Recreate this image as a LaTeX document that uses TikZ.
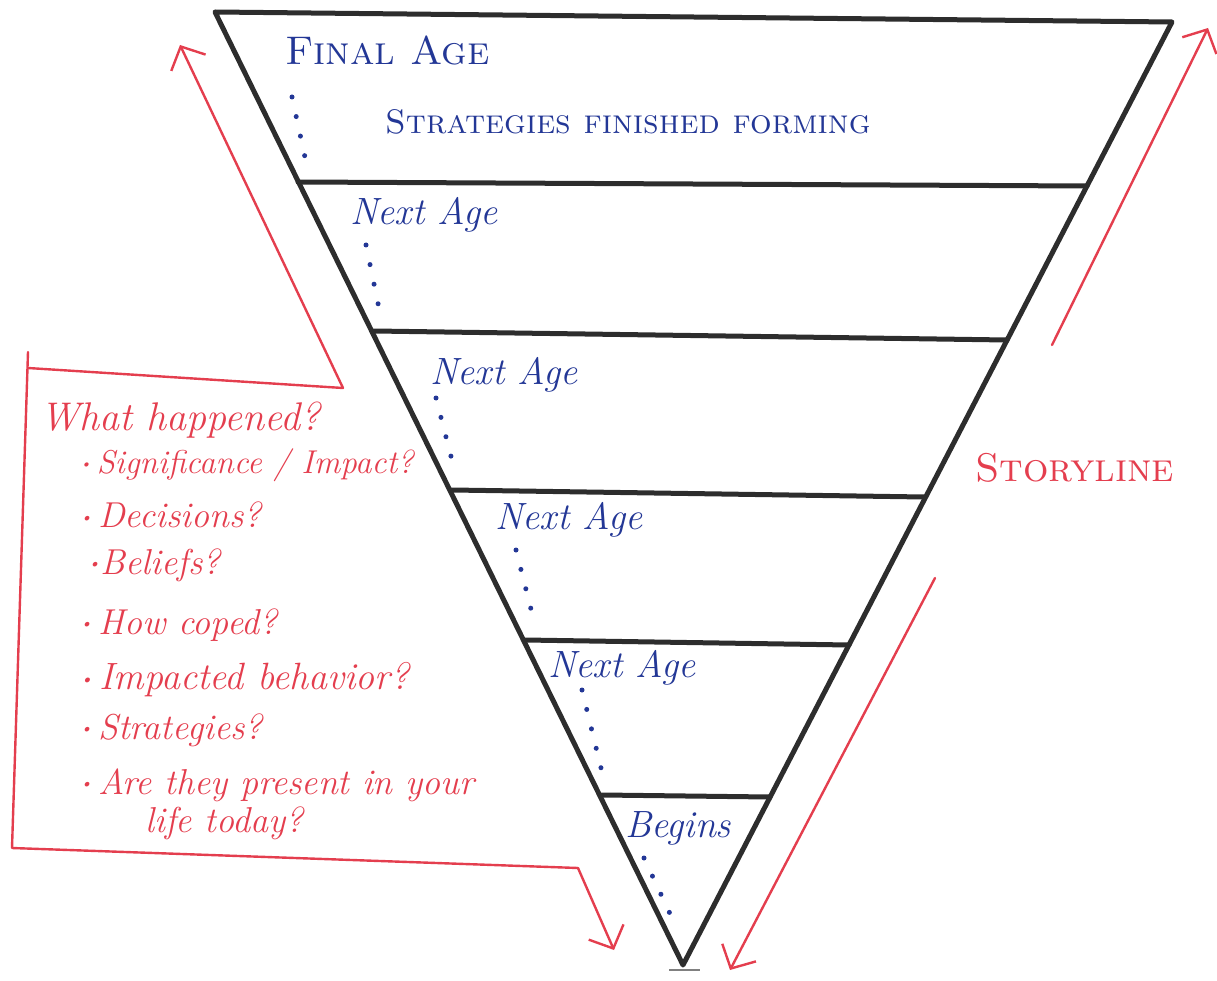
\documentclass[tikz,border=0pt]{standalone}
\usepackage{fontspec}
\usetikzlibrary{arrows.meta}
\definecolor{ink}{RGB}{45,45,45}
\definecolor{pen}{RGB}{228,62,78}
\definecolor{bpen}{RGB}{35,55,150}
\newcommand{\bdot}{\raisebox{0.15em}{\scalebox{0.45}{\textbullet}}}
\tikzset{
  frame/.style={draw=ink, line width=5pt, line cap=round, line join=round},
  redline/.style={draw=pen, line width=2.4pt, line cap=round, line join=round},
  redarrow/.style={redline, -{Straight Barb[length=18pt,width=38pt,line width=2.4pt]}},
  dots/.style={draw=bpen, line width=5pt, line cap=round, dash pattern=on 0pt off 20pt},
  bluetxt/.style={text=bpen, anchor=west, inner sep=0pt, font=\fontsize{38}{40}\selectfont\itshape},
  bluesc/.style={text=bpen, anchor=west, inner sep=0pt, font=\fontsize{34}{36}\selectfont\scshape},
  redtxt/.style={text=pen, anchor=west, inner sep=0pt, font=\fontsize{36}{40}\selectfont\itshape},
  redsc/.style={text=pen, anchor=west, inner sep=0pt, font=\fontsize{36}{38}\selectfont\scshape}
}
\begin{document}
\begin{tikzpicture}[x=1pt,y=-1pt]
\useasboundingbox (0,0) rectangle (1217,981);
% triangle
\coordinate (tl) at (215,12);
\coordinate (tr) at (1172,22);
\coordinate (ap) at (683,965);
\draw[frame] (tl) -- (tr) -- (ap) -- cycle;
\draw[gray, line width=2pt] (669,970) -- (700,970);
% levels
\coordinate (l1a) at (298,182); \coordinate (l1b) at (1087,186);
\coordinate (l2a) at (374,331); \coordinate (l2b) at (1007,340);
\coordinate (l3a) at (452,490); \coordinate (l3b) at (924,497);
\coordinate (l4a) at (525,640); \coordinate (l4b) at (849,645);
\coordinate (l5a) at (602,795); \coordinate (l5b) at (770,797);
\foreach \i in {1,...,5} \draw[frame] (l\i a) -- (l\i b);
% blue labels
\node[bluesc, font=\fontsize{40}{42}\selectfont\scshape] (fa) at (285,50) {Final Age};
\node[bluesc] (sf) at (385,122) {Strategies finished forming};
\node[bluetxt] (n1) at (350,215) {Next Age};
\node[bluetxt] (n2) at (430,375) {Next Age};
\node[bluetxt] (n3) at (495,520) {Next Age};
\node[bluetxt] (n4) at (548,668) {Next Age};
\node[bluetxt] (bg) at (625,828) {Begins};
% dotted trails
\coordinate (d0a) at (292,97);  \coordinate (d0b) at (306,162);
\coordinate (d1a) at (366,245); \coordinate (d1b) at (381,318);
\coordinate (d2a) at (436,398); \coordinate (d2b) at (455,472);
\coordinate (d3a) at (516,550); \coordinate (d3b) at (535,625);
\coordinate (d4a) at (582,690); \coordinate (d4b) at (602,772);
\coordinate (d5a) at (644,858); \coordinate (d5b) at (672,918);
\foreach \i in {0,...,5} \draw[dots] (d\i a) -- (d\i b);
% red bracket and arrows
\coordinate (la) at (180,45);
\coordinate (lc) at (343,388);
\coordinate (bl) at (28,368);
\coordinate (bt) at (28,352);
\coordinate (bb) at (12,848);
\coordinate (br) at (578,868);
\coordinate (ra) at (614,950);
\draw[redarrow] (lc) -- (la);
\draw[redline] (bl) -- (lc);
\draw[redline] (bt) -- (bb) -- (br);
\draw[redarrow] (br) -- (ra);
\coordinate (rs) at (1052,345);
\coordinate (rt) at (1208,28);
\draw[redarrow] (rs) -- (rt);
\coordinate (ds) at (935,578);
\coordinate (dt) at (730,970);
\draw[redarrow] (ds) -- (dt);
% red text
\node[redsc, font=\fontsize{40}{42}\selectfont\scshape] (st) at (975,468) {Storyline};
\node[redtxt, font=\fontsize{40}{42}\selectfont\itshape] (q0) at (40,420) {What happened?};
\node[redtxt, font=\fontsize{33}{40}\selectfont\itshape] (q1) at (80,465) {\bdot\,Significance / Impact?};
\node[redtxt] (q2) at (80,515) {\bdot\,Decisions?};
\node[redtxt] (q3) at (88,565) {\bdot Beliefs?};
\node[redtxt] (q4) at (80,625) {\bdot\,How coped?};
\node[redtxt, font=\fontsize{38}{40}\selectfont\itshape] (q5) at (80,680) {\bdot\,Impacted behavior?};
\node[redtxt] (q6) at (80,730) {\bdot\,Strategies?};
\node[redtxt] (q7) at (80,785) {\bdot\,Are they present in your};
\node[redtxt] (q8) at (145,823) {life today?};
\end{tikzpicture}
\end{document}
